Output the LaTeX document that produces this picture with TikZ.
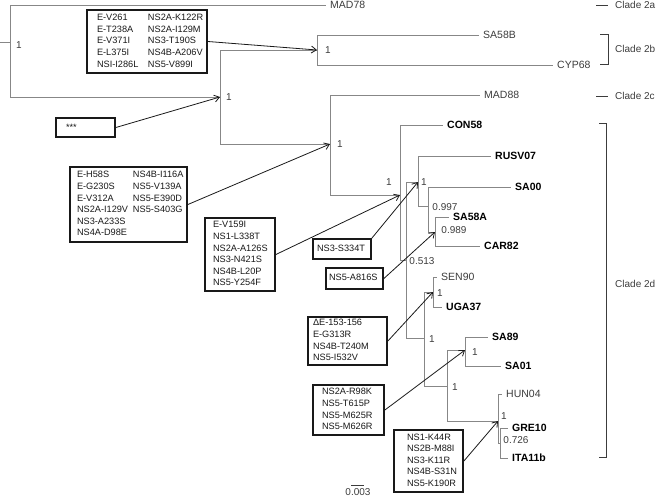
\documentclass[tikz,border=0pt]{standalone}
\usepackage{fontspec}
\setmainfont{Liberation Sans}
\usetikzlibrary{arrows.meta}
\definecolor{treegray}{RGB}{135,135,135}
\definecolor{leafgray}{RGB}{60,60,60}
\definecolor{boxblack}{RGB}{25,25,25}
\begin{document}
\begin{tikzpicture}[x=1pt,y=-1pt,
  tree/.style={draw=treegray, line width=0.9pt},
  leaf/.style={anchor=west, inner xsep=4pt, inner ysep=1pt, font=\fontsize{10.5}{12}\selectfont, text=leafgray},
  bleaf/.style={leaf, font=\fontsize{10.5}{12}\selectfont\bfseries, text=black},
  supp/.style={font=\fontsize{10}{12}\selectfont, text=leafgray, inner sep=0pt},
  clade/.style={anchor=west, inner sep=0pt, font=\fontsize{10}{12}\selectfont, text=leafgray},
  cladeline/.style={draw=leafgray, line width=0.9pt},
  mbox/.style={draw=boxblack, line width=1.8pt, align=left, inner ysep=0pt,
    font=\fontsize{9.2}{11.6}\selectfont, text=boxblack},
  marrow/.style={draw=boxblack, line width=0.8pt, -{Straight Barb[length=5pt,width=7pt]}},
]
\useasboundingbox (0,0) rectangle (661,500);

% internal nodes
\coordinate (rstub) at (0,42);
\coordinate (r0) at (10,42);
\coordinate (n1) at (220,97);
\coordinate (n2) at (317,50);
\coordinate (n3) at (330,144);
\coordinate (n4) at (400,195);
\coordinate (n5) at (406,260);
\coordinate (n6) at (418,182);
\coordinate (n7) at (428,206);
\coordinate (n8) at (435,232);
\coordinate (n9) at (424,338);
\coordinate (n10) at (433,292);
\coordinate (n11) at (447,386);
\coordinate (n12) at (465,350);
\coordinate (n13) at (498,421);
\coordinate (n14) at (500,443);

% leaves
\node[leaf]  (MAD78)  at (326,5)   {MAD78};
\node[leaf]  (SA58B)  at (479,35)  {SA58B};
\node[leaf]  (CYP68)  at (553,65)  {CYP68};
\node[leaf]  (MAD88)  at (480,95)  {MAD88};
\node[bleaf] (CON58)  at (443,125) {CON58};
\node[bleaf] (RUSV07) at (491,156) {RUSV07};
\node[bleaf] (SA00)   at (511,187) {SA00};
\node[bleaf] (SA58A)  at (449,217) {SA58A};
\node[bleaf] (CAR82)  at (480,246) {CAR82};
\node[leaf]  (SEN90)  at (437,277) {SEN90};
\node[bleaf] (UGA37)  at (442,307) {UGA37};
\node[bleaf] (SA89)   at (488,337) {SA89};
\node[bleaf] (SA01)   at (501,366) {SA01};
\node[leaf]  (HUN04)  at (502,394) {HUN04};
\node[bleaf] (GRE10)  at (508,428) {GRE10};
\node[bleaf] (ITA11b) at (508,458) {ITA11b};

% branches
\draw[tree] (rstub) -- (r0);
\draw[tree] (r0) |- (MAD78.west);
\draw[tree] (r0) |- (n1);
\draw[tree] (n1) |- (n2);
\draw[tree] (n2) |- (SA58B.west);
\draw[tree] (n2) |- (CYP68.west);
\draw[tree] (n1) |- (n3);
\draw[tree] (n3) |- (MAD88.west);
\draw[tree] (n3) |- (n4);
\draw[tree] (n4) |- (CON58.west);
\draw[tree] (n4) |- (n5);
\draw[tree] (n5) |- (n6);
\draw[tree] (n6) |- (RUSV07.west);
\draw[tree] (n6) |- (n7);
\draw[tree] (n7) |- (SA00.west);
\draw[tree] (n7) |- (n8);
\draw[tree] (n8) |- (SA58A.west);
\draw[tree] (n8) |- (CAR82.west);
\draw[tree] (n5) |- (n9);
\draw[tree] (n9) |- (n10);
\draw[tree] (n10) |- (SEN90.west);
\draw[tree] (n10) |- (UGA37.west);
\draw[tree] (n9) |- (n11);
\draw[tree] (n11) |- (n12);
\draw[tree] (n12) |- (SA89.west);
\draw[tree] (n12) |- (SA01.west);
\draw[tree] (n11) |- (n13);
\draw[tree] (n13) |- (HUN04.west);
\draw[tree] (n13) |- (n14);
\draw[tree] (n14) |- (GRE10.west);
\draw[tree] (n14) |- (ITA11b.west);

% support values
\node[supp] (l0)  at (19,45)   {1};
\node[supp] (l1)  at (229,97)  {1};
\node[supp] (l2)  at (328,50)  {1};
\node[supp] (l3)  at (340,144) {1};
\node[supp] (l4)  at (389,182) {1};
\node[supp] (l5)  at (422,261) {0.513};
\node[supp] (l6)  at (424,182) {1};
\node[supp] (l7)  at (445,207) {0.997};
\node[supp] (l8)  at (454,230) {0.989};
\node[supp] (l9)  at (432,339) {1};
\node[supp] (l10) at (440,293) {1};
\node[supp] (l11) at (455,387) {1};
\node[supp] (l12) at (475,352) {1};
\node[supp] (l13) at (504,416) {1};
\node[supp] (l14) at (516,440) {0.726};

% mutation boxes
\node[mbox, minimum width=120, minimum height=63, inner xsep=10pt, text width=100pt] (B1) at (147,41.5)
  {\begin{tabular}{@{}p{51pt}@{}l@{}}
   E-V261 & NS2A-K122R\\
   E-T238A & NS2A-I129M\\
   E-V371I & NS3-T190S\\
   E-L375I & NS4B-A206V\\
   NSI-I286L & NS5-V899I
   \end{tabular}};
\node[mbox, minimum width=59, minimum height=19, inner xsep=10pt, text width=39pt] (B2) at (85.5,127.5) {***};
\node[mbox, minimum width=117, minimum height=75, inner xsep=7pt, text width=103pt] (B3) at (128.5,204.5)
  {\begin{tabular}{@{}p{56pt}@{}l@{}}
   E-H58S & NS4B-I116A\\
   E-G230S & NS5-V139A\\
   E-V312A & NS5-E390D\\
   NS2A-I129V & NS5-S403G\\
   NS3-A233S & \\
   NS4A-D98E &
   \end{tabular}};
\node[mbox, minimum width=70, minimum height=73, inner xsep=8pt, text width=54pt] (B4) at (240,254.5)
  {\begin{tabular}{@{}l@{}}E-V159I\\NS1-L338T\\NS2A-A126S\\NS3-N421S\\NS4B-L20P\\NS5-Y254F\end{tabular}};
\node[mbox, minimum width=58, minimum height=20, inner xsep=4pt, text width=50pt] (B5) at (342,249)
  {\begin{tabular}{@{}l@{}}NS3-S334T\end{tabular}};
\node[mbox, minimum width=57, minimum height=21, inner xsep=3pt, text width=51pt] (B6) at (354.5,278.5)
  {\begin{tabular}{@{}l@{}}NS5-A816S\end{tabular}};
\node[mbox, minimum width=79, minimum height=48, inner xsep=5pt, text width=69pt] (B7) at (347.5,341)
  {\begin{tabular}{@{}l@{}}ΔE-153-156\\E-G313R\\NS4B-T240M\\NS5-I532V\end{tabular}};
\node[mbox, minimum width=71, minimum height=50, inner xsep=9pt, text width=53pt] (B8) at (348.5,410)
  {\begin{tabular}{@{}l@{}}NS2A-R98K\\NS5-T615P\\NS5-M625R\\NS5-M626R\end{tabular}};
\node[mbox, minimum width=69, minimum height=62, inner xsep=13pt, text width=43pt] (B9) at (428.5,461)
  {\begin{tabular}{@{}l@{}}NS1-K44R\\NS2B-M88I\\NS3-K11R\\NS4B-S31N\\NS5-K190R\end{tabular}};

% arrows
\draw[marrow] (B1.east) -- (n2);
\draw[marrow] (B2.east) -- (n1);
\draw[marrow] (B3.east) -- (n3);
\draw[marrow] (B4.east) -- (n4);
\draw[marrow] (B5.north east) -- (n6);
\draw[marrow] (B6.east) -- (n8);
\draw[marrow] (B7.east) -- (n10);
\draw[marrow] (B8.east) -- (n12);
\draw[marrow] (B9.east) -- (n13);

% clade markers
\draw[cladeline] (596,5) -- (608,5);
\node[clade] (c2a) at (615,5) {Clade 2a};
\draw[cladeline] (600,34) -- (608,34) -- (608,64) -- (600,64);
\node[clade] (c2b) at (615,49) {Clade 2b};
\draw[cladeline] (596,96) -- (608,96);
\node[clade] (c2c) at (615,96) {Clade 2c};
\draw[cladeline] (599,123) -- (606,123) -- (606,457) -- (599,457);
\node[clade] (c2d) at (615,284) {Clade 2d};

% scale
\node[supp] (scale) at (358,492) {0.003};
\draw[leafgray, line width=0.7pt] (351,485) -- (364,485);
\end{tikzpicture}
\end{document}
